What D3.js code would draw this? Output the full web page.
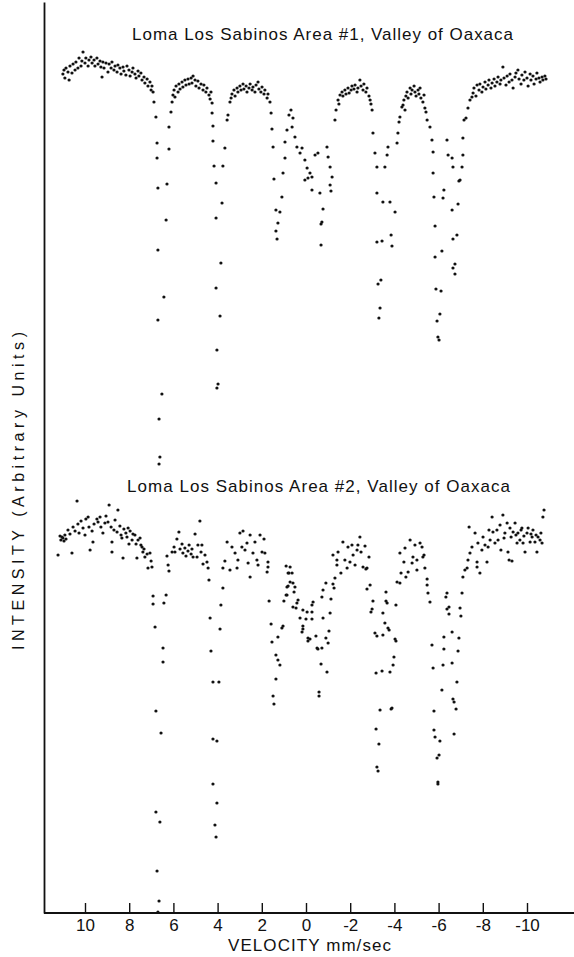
<!DOCTYPE html>
<html>
<head>
<meta charset="utf-8">
<script src="https://cdn.jsdelivr.net/npm/d3@7"></script>
<style>
  body { margin: 0; background: #fff; }
  svg { display: block; }
  text { font-family: "Liberation Sans", Arial, sans-serif; fill: #111; }
</style>
</head>
<body>
<div id="chart"></div>
<script>
// velocity (mm/sec), intensity (arbitrary units)
const area1Points = [
  [11.00,926],[10.95,930],[10.91,922],[10.86,932],[10.77,928],[10.72,920],[10.68,934],[10.59,927],[10.54,936],[10.45,930],
  [10.41,938],[10.32,932],[10.27,942],[10.18,934],[10.14,939],[10.09,948],[10.00,937],[9.96,942],[9.86,934],[9.82,940],
  [9.73,943],[9.68,937],[9.59,940],[9.55,934],[9.46,942],[9.41,936],[9.32,939],[9.28,933],[9.23,923],[9.19,938],
  [9.14,932],[9.05,937],[8.96,928],[8.91,936],[8.82,932],[8.78,938],[8.69,930],[8.64,934],[8.55,928],[8.51,935],
  [8.42,932],[8.37,926],[8.28,933],[8.24,929],[8.15,925],[8.10,934],[8.01,930],[7.96,924],[7.87,928],[7.83,932],
  [7.74,926],[7.69,922],[7.60,929],[7.56,924],[7.47,927],[7.42,920],[7.33,923],[7.29,917],[7.19,921],[7.15,914],
  [7.06,918],[7.01,910],[6.97,914],
  // line 1
  [6.92,908],[6.88,898],[6.79,883],[6.74,857],[6.74,842],[6.70,812],[6.70,750],[6.70,680],[6.65,581],[6.65,536],
  [6.61,543],[6.52,606],[6.43,703],[6.33,780],[6.29,816],[6.20,851],[6.20,873],[6.11,888],[6.06,898],
  [6.02,905],[5.97,910],[5.93,903],[5.88,914],[5.79,908],[5.75,916],[5.70,911],[5.61,918],[5.57,913],[5.48,920],
  [5.43,915],[5.34,921],[5.29,916],[5.20,922],[5.16,917],[5.11,924],[5.02,920],[4.98,914],[4.89,919],[4.84,912],
  [4.75,916],[4.66,910],[4.62,915],[4.53,908],[4.48,912],[4.39,905],[4.34,901],[4.30,908],
  // line 2
  [4.25,897],[4.25,887],[4.21,874],[4.21,859],[4.16,834],[4.07,817],[4.07,782],[4.07,712],[4.03,650],[4.03,612],
  [3.98,616],[3.89,684],[3.85,737],[3.80,797],[3.76,834],[3.67,852],[3.57,880],[3.53,885],[3.44,898],
  [3.39,902],[3.35,906],[3.26,910],[3.21,904],[3.12,912],[3.08,908],[2.99,914],[2.94,910],[2.85,916],[2.81,911],
  [2.71,914],[2.67,908],[2.58,912],[2.53,916],[2.44,910],[2.40,913],[2.31,908],[2.26,915],[2.17,918],[2.13,911],
  [2.04,908],[1.99,913],[1.90,906],[1.86,910],[1.76,902],[1.72,906],[1.63,898],
  // line 3 and centre
  [1.58,887],[1.54,871],[1.49,853],[1.45,821],[1.36,790],[1.36,769],[1.31,761],[1.27,777],[1.18,788],[1.09,803],
  [1.04,827],[0.95,842],[0.95,858],[0.86,870],[0.77,885],[0.68,890],[0.63,873],[0.59,882],
  [0.50,863],[0.41,853],[0.27,847],[0.18,852],[0.05,840],[-0.05,832],[-0.09,822],[-0.18,827],[-0.27,823],[0.05,820],
  [-0.27,810],[-0.41,845],[-0.54,847],[-0.63,807],[-0.68,776],[-0.68,755],[-0.72,778],[-0.77,791],[-0.95,853],[-1.00,843],
  [-1.09,833],[-1.09,815],[-1.13,809],[-1.18,823],[-1.31,880],[-1.36,890],
  [-1.45,900],[-1.49,896],[-1.54,905],[-1.63,908],[-1.67,904],[-1.76,910],[-1.81,906],[-1.90,912],[-1.95,907],[-2.04,910],
  [-2.08,914],[-2.17,911],[-2.22,915],[-2.31,908],[-2.35,912],[-2.44,920],[-2.49,914],[-2.58,910],[-2.62,916],[-2.71,908],
  [-2.76,912],[-2.85,904],[-2.90,900],[-2.94,896],
  // line 5
  [-2.99,890],[-3.03,867],[-3.12,847],[-3.21,833],[-3.21,807],[-3.21,758],[-3.26,716],[-3.30,682],[-3.35,692],[-3.39,720],
  [-3.44,759],[-3.48,798],[-3.57,833],[-3.67,845],[-3.71,853],[-3.80,798],[-3.85,765],[-3.89,754],[-4.03,788],[-4.12,857],
  [-4.16,867],[-4.21,878],[-4.25,883],[-4.34,893],
  [-4.39,895],[-4.43,900],[-4.48,890],[-4.52,904],[-4.57,908],[-4.62,902],[-4.71,912],[-4.75,906],[-4.80,910],[-4.89,914],
  [-4.93,908],[-4.98,904],[-5.07,910],[-5.11,906],[-5.16,912],[-5.20,902],[-5.29,898],[-5.34,905],[-5.38,892],[-5.43,888],
  [-5.48,880],
  // line 6
  [-5.61,873],[-5.70,860],[-5.75,848],[-5.75,827],[-5.79,803],[-5.84,774],[-5.84,743],[-5.88,711],[-5.93,679],[-5.97,663],
  [-6.02,660],[-6.06,686],[-6.11,709],[-6.15,749],[-6.20,802],[-6.24,810],[-6.38,860],[-6.43,845],[-6.61,842],[-6.65,833],
  [-6.61,790],[-6.65,761],[-6.65,732],[-6.74,736],[-6.74,726],[-6.83,765],[-6.88,796],[-6.92,819],[-6.97,820],[-7.06,833],
  [-7.10,845],[-7.10,862],[-7.15,880],[-7.24,882],[-7.33,892],[-7.42,900],[-7.51,903],
  [-7.56,907],[-7.60,912],[-7.69,904],[-7.74,915],[-7.83,910],[-7.87,916],[-7.96,908],[-8.01,913],[-8.10,918],[-8.14,911],
  [-8.24,915],[-8.28,920],[-8.37,912],[-8.42,917],[-8.51,921],[-8.55,914],[-8.64,918],[-8.69,923],[-8.78,916],[-8.82,920],
  [-8.91,933],[-8.96,922],[-9.05,915],[-9.10,924],[-9.19,918],[-9.23,926],[-9.32,920],[-9.37,912],[-9.46,923],[-9.50,927],
  [-9.59,930],[-9.64,921],[-9.73,916],[-9.77,925],[-9.86,920],[-9.91,928],[-10.00,922],[-10.05,914],[-10.14,926],[-10.18,920],
  [-10.27,924],[-10.32,916],[-10.41,921],[-10.45,927],[-10.54,922],[-10.59,918],[-10.68,923],[-10.72,920],[-10.81,924],[-10.86,921]
];

const area2Points = [
  [11.22,445],[11.13,464],[11.09,460],[11.04,463],[11.00,462],[10.95,459],[10.91,465],[10.86,461],[10.77,470],[10.68,466],
  [10.59,447],[10.54,473],[10.45,469],[10.36,499],[10.32,476],[10.27,467],[10.18,479],[10.09,472],[10.00,465],[9.96,481],
  [9.86,483],[9.82,473],[9.77,450],[9.68,469],[9.64,458],[9.59,476],[9.46,481],[9.41,478],[9.32,483],[9.28,473],
  [9.19,467],[9.10,477],[9.05,484],[8.96,478],[8.91,495],[8.82,473],[8.78,448],[8.78,458],[8.69,470],[8.64,480],
  [8.55,468],[8.51,490],[8.42,474],[8.37,465],[8.33,462],[8.28,442],[8.24,471],[8.15,467],[8.10,463],[8.05,472],
  [8.01,456],[7.96,469],[7.87,460],[7.83,466],[7.74,465],[7.69,456],[7.65,442],[7.60,460],[7.51,462],[7.47,455],
  [7.42,453],[7.38,448],[7.33,451],[7.29,443],[7.19,446],[7.15,432],[7.06,447],[7.01,439],[6.97,433],
  // line 1
  [6.92,404],[6.92,396],[6.83,373],[6.79,289],[6.79,188],[6.74,129],[6.70,88],[6.65,99],[6.61,178],[6.56,267],
  [6.47,338],[6.47,352],[6.43,397],[6.33,405],[6.29,444],[6.24,435],[6.20,429],
  [6.06,448],[5.97,453],[5.93,448],[5.84,461],[5.75,468],[5.70,451],[5.61,456],[5.57,447],[5.48,452],[5.43,444],
  [5.34,449],[5.29,455],[5.20,446],[5.16,451],[5.11,443],[5.02,466],[4.93,443],[4.89,455],[4.80,479],[4.75,448],
  [4.71,455],[4.66,436],[4.57,445],[4.48,438],[4.43,432],
  // line 2
  [4.39,420],[4.34,382],[4.30,349],[4.21,318],[4.21,261],[4.21,216],[4.12,175],[4.07,163],[4.03,197],[4.03,259],
  [3.94,318],[3.89,371],[3.85,395],[3.76,412],[3.76,432],
  [3.67,439],[3.57,458],[3.44,430],[3.35,453],[3.21,447],[3.12,432],[3.08,440],[2.99,467],[2.90,453],[2.85,469],
  [2.76,450],[2.67,457],[2.62,437],[2.53,465],[2.53,423],[2.40,447],[2.31,458],[2.22,440],[2.17,435],[2.08,465],
  [1.99,448],[1.90,461],[1.86,447],[1.76,428],[1.72,438],[1.72,433],
  // line 3 and centre
  [1.67,399],[1.58,376],[1.54,358],[1.49,304],[1.45,296],[1.36,321],[1.36,345],[1.27,340],[1.27,363],[1.18,335],
  [1.09,372],[1.04,374],[1.00,399],[0.90,405],[0.81,414],[0.81,427],[0.90,434],
  [0.86,413],[0.86,405],[0.77,427],[0.72,433],[0.72,418],[0.63,427],[0.59,417],[0.59,393],[0.54,408],[0.50,413],
  [0.45,392],[0.41,397],[0.36,400],[0.27,382],[0.18,368],[0.14,390],[0.14,374],[0.14,371],[0.00,381],[-0.05,388],
  [-0.09,362],[-0.09,359],[-0.18,361],[-0.27,388],[-0.27,395],[-0.27,381],[-0.32,398],[-0.45,364],[-0.50,352],[-0.54,351],
  [-0.59,308],[-0.59,304],[-0.68,336],[-0.72,352],[-0.77,382],[-0.90,362],[-0.95,328],[-1.00,357],[-1.04,369],[-1.09,387],
  [-1.13,401],[-0.72,403],[-0.77,410],[-0.90,417],[-1.22,416],[-1.27,412],[-1.31,422],[-1.40,435],[-1.40,440],
  [-1.22,445],[-1.45,448],[-1.58,427],[-1.67,458],[-1.76,440],[-1.86,432],[-1.90,453],[-1.99,438],[-2.08,455],[-2.13,445],
  [-2.22,435],[-2.31,450],[-2.35,455],[-2.44,463],[-2.49,448],[-2.58,433],[-2.67,454],[-2.71,431],[-2.76,432],[-2.85,443],
  // line 5
  [-2.90,415],[-2.76,411],[-3.03,399],[-2.99,391],[-2.94,388],[-3.12,367],[-3.21,364],[-3.17,327],[-3.17,271],[-3.21,233],
  [-3.26,229],[-3.30,256],[-3.35,290],[-3.44,329],[-3.48,365],[-3.48,387],[-3.57,377],[-3.62,399],[-3.62,408],[-3.67,397],
  [-3.71,372],[-3.76,370],[-3.80,328],[-3.85,291],[-3.89,292],[-3.94,335],[-3.98,343],[-4.03,361],[-4.07,359],[-4.07,395],
  [-4.12,418],[-4.25,417],[-4.30,427],[-4.25,447],[-4.48,452],[-4.43,438],[-4.52,423],[-4.62,428],[-4.71,460],[-4.80,437],
  [-4.84,443],[-4.93,455],[-5.02,430],[-5.02,440],[-5.16,457],[-5.25,453],[-5.29,443],[-5.34,445],[-5.38,432],[-5.48,421],
  [-5.48,415],[-5.52,407],
  // line 6
  [-5.61,398],[-5.70,355],[-5.75,332],[-5.79,289],[-5.79,270],[-5.84,263],[-5.93,242],[-5.97,218],[-5.97,216],[-6.02,245],
  [-6.06,259],[-6.15,310],[-6.20,335],[-6.24,351],[-6.24,363],[-6.33,403],[-6.38,407],[-6.38,391],[-6.47,393],[-6.47,386],
  [-6.61,368],[-6.61,337],[-6.65,301],[-6.70,298],[-6.70,266],[-6.79,291],[-6.83,318],[-6.88,349],[-6.92,362],[-6.97,392],
  [-7.01,384],[-7.06,407],[-7.10,423],[-7.19,430],[-7.29,432],[-7.33,440],[-7.38,473],[-7.42,447],[-7.51,453],
  [-7.65,467],[-7.74,438],[-7.74,433],[-7.78,457],[-7.87,427],[-7.96,450],[-8.01,463],[-8.10,455],[-8.19,438],[-8.24,453],
  [-8.28,470],[-8.33,460],[-8.42,483],[-8.46,468],[-8.55,457],[-8.64,470],[-8.69,460],[-8.78,475],[-8.82,450],[-8.91,485],
  [-8.96,462],[-9.00,467],[-9.10,477],[-9.14,448],[-9.19,440],[-9.23,472],[-9.28,463],[-9.32,439],[-9.37,468],[-9.46,477],
  [-9.50,465],[-9.55,457],[-9.59,467],[-9.68,460],[-9.73,470],[-9.77,472],[-9.82,457],[-9.86,464],[-9.91,448],[-10.00,467],
  [-10.05,472],[-10.14,458],[-10.18,466],[-10.23,463],[-10.27,470],[-10.36,458],[-10.41,465],[-10.45,448],[-10.50,463],[-10.59,460],
  [-10.63,467],[-10.68,457],[-10.72,483],[-10.77,490]
];

const velocityTicks = [10, 8, 6, 4, 2, 0, -2, -4, -6, -8, -10];
const spectrumTitles = [
  'Loma Los Sabinos Area #1, Valley of Oaxaca',
  'Loma Los Sabinos Area #2, Valley of Oaxaca'
];
const xTitle = 'VELOCITY mm/sec';
const yTitle = 'INTENSITY (Arbitrary Units)';

const width = 574, height = 957;

const svg = d3.select('#chart').append('svg')
  .attr('width', width)
  .attr('height', height);

const x = d3.scaleLinear().domain([10, -10]).range([85, 527]);
const y = d3.scaleLinear().domain([87, 998]).range([913, 2]);

// axes
const yAxisG = svg.append('g')
  .attr('transform', 'translate(44,0)')
  .call(d3.axisLeft(y).tickValues([]).tickSizeOuter(0));
yAxisG.select('.domain').attr('stroke', '#111').attr('stroke-width', 1.8);

svg.append('line')
  .attr('x1', 44).attr('x2', width)
  .attr('y1', 913).attr('y2', 913)
  .attr('stroke', '#111').attr('stroke-width', 1.8);

const xAxisG = svg.append('g')
  .attr('transform', 'translate(0,913)')
  .call(d3.axisBottom(x)
    .tickValues(velocityTicks)
    .tickSizeInner(-10)
    .tickSizeOuter(0)
    .tickPadding(6)
    .tickFormat(d => String(d)));
xAxisG.select('.domain').remove();
xAxisG.selectAll('.tick line').attr('stroke', '#111').attr('stroke-width', 1.4);
xAxisG.selectAll('.tick text')
  .attr('font-size', 17)
  .attr('font-family', '"Liberation Sans", Arial, sans-serif')
  .attr('fill', '#111');

// points
[area1Points, area2Points].forEach(pts => {
  svg.append('g').selectAll('circle')
    .data(pts)
    .join('circle')
    .attr('cx', d => x(d[0]))
    .attr('cy', d => y(d[1]))
    .attr('r', 1.6)
    .attr('fill', '#111');
});

// titles and labels
svg.append('text')
  .attr('x', 132).attr('y', 40)
  .attr('font-size', 17)
  .attr('textLength', 381)
  .attr('lengthAdjust', 'spacing')
  .text(spectrumTitles[0]);

svg.append('text')
  .attr('x', 127).attr('y', 492)
  .attr('font-size', 17)
  .attr('textLength', 383)
  .attr('lengthAdjust', 'spacing')
  .text(spectrumTitles[1]);

svg.append('text')
  .attr('x', 228).attr('y', 951)
  .attr('font-size', 17)
  .attr('textLength', 163)
  .attr('lengthAdjust', 'spacing')
  .text(xTitle);

svg.append('text')
  .attr('transform', 'translate(24,491) rotate(-90)')
  .attr('text-anchor', 'middle')
  .attr('font-size', 16)
  .attr('textLength', 318)
  .attr('lengthAdjust', 'spacing')
  .text(yTitle);
</script>
</body>
</html>
